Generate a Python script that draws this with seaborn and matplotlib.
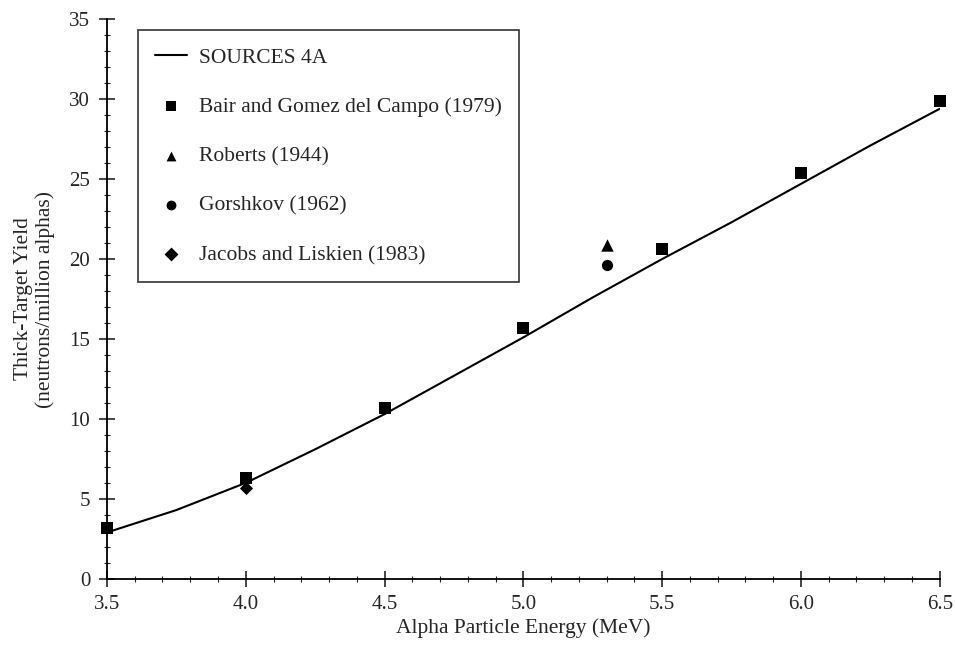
import matplotlib
matplotlib.use("Agg")
import matplotlib.pyplot as plt
import pandas as pd
import seaborn as sns
from matplotlib.ticker import MultipleLocator, FormatStrFormatter

# SOURCES 4A calculation
calc_energy = [3.5, 3.75, 4.0, 4.25, 4.5, 4.75, 5.0, 5.25, 5.5, 5.75, 6.0, 6.25, 6.5]
calc_yield = [2.9, 4.3, 6.0, 8.1, 10.3, 12.7, 15.1, 17.6, 20.0, 22.3, 24.7, 27.1, 29.4]

# measurements
bair_energy = [3.5, 4.0, 4.5, 5.0, 5.5, 6.0, 6.5]
bair_yield = [3.2, 6.3, 10.7, 15.7, 20.6, 25.4, 29.9]
roberts_energy = [5.3]
roberts_yield = [20.9]
gorshkov_energy = [5.3]
gorshkov_yield = [19.6]
jacobs_energy = [4.0]
jacobs_yield = [5.7]

sns.set_style("white")
plt.rcParams['font.family'] = ['Liberation Serif', 'DejaVu Serif']

fig = plt.figure(figsize=(9.55, 6.63), dpi=100)
ax = fig.add_axes([0.112, 0.127, 0.872, 0.844])

calc = pd.DataFrame({'E': calc_energy, 'Y': calc_yield})
sns.lineplot(data=calc, x='E', y='Y', ax=ax, color='black', lw=1.5, label='SOURCES 4A')

sets = [
    (bair_energy, bair_yield, 's', 80, 'Bair and Gomez del Campo (1979)'),
    (roberts_energy, roberts_yield, '^', 80, 'Roberts (1944)'),
    (gorshkov_energy, gorshkov_yield, 'o', 65, 'Gorshkov (1962)'),
    (jacobs_energy, jacobs_yield, 'D', 45, 'Jacobs and Liskien (1983)'),
]
for e, y, m, s, lab in sets:
    sns.scatterplot(x=e, y=y, ax=ax, marker=m, s=s, color='black',
                    edgecolor='black', linewidth=0, label=lab, zorder=3,
                    clip_on=False)

ax.set_xlim(3.5, 6.5)
ax.set_ylim(0, 35)
ax.xaxis.set_major_locator(MultipleLocator(0.5))
ax.xaxis.set_minor_locator(MultipleLocator(0.1))
ax.yaxis.set_major_locator(MultipleLocator(5))
ax.yaxis.set_minor_locator(MultipleLocator(1))
ax.xaxis.set_major_formatter(FormatStrFormatter('%.1f'))
ax.tick_params(which='major', direction='inout', length=12, width=1.2,
               labelsize=15, bottom=True, left=True, pad=6)
ax.tick_params(which='minor', direction='inout', length=5, width=0.8,
               bottom=True, left=True)

for side in ['top', 'right']:
    ax.spines[side].set_visible(False)
for side in ['left', 'bottom']:
    ax.spines[side].set_color('black')
    ax.spines[side].set_linewidth(1.3)

ax.set_xlabel('Alpha Particle Energy (MeV)', fontsize=15.5, labelpad=3)
ax.set_ylabel('Thick-Target Yield\n(neutrons/million alphas)', fontsize=15.5, labelpad=10)

leg = ax.legend(loc='upper left', bbox_to_anchor=(0.037, 0.98), fontsize=15.5,
                frameon=True, fancybox=False, labelspacing=1.36, handlelength=1.5,
                handletextpad=0.55, borderpad=0.8, borderaxespad=0)
leg.get_frame().set_edgecolor('black')
leg.get_frame().set_linewidth(1.2)
for h in leg.legend_handles[1:]:
    h.set_sizes([50])

plt.savefig('out.png', dpi=100)
